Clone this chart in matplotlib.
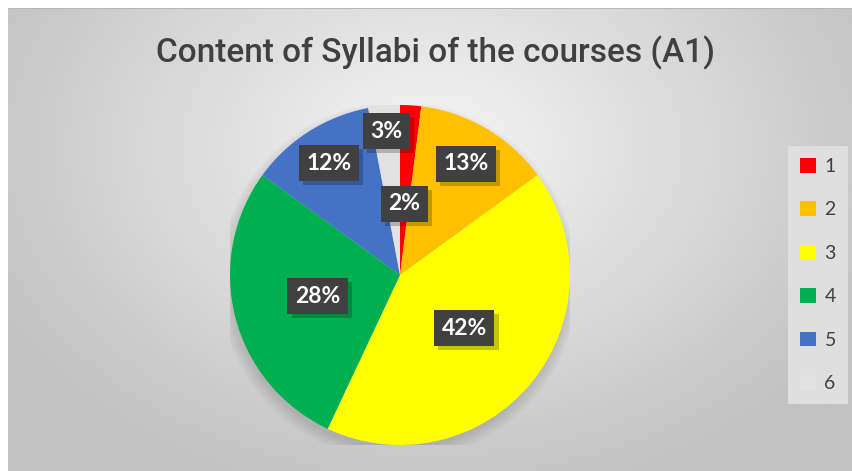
import numpy as np
import matplotlib
matplotlib.use("Agg")
from matplotlib import pyplot as plt
import matplotlib.patheffects as pe

labels = ["1", "2", "3", "4", "5", "6"]
values = [2, 13, 42, 28, 12, 3]
colors = ["#ff0000", "#ffc000", "#ffff00", "#00b050", "#4472c4", "#e2e2e2"]
title = "Content of Syllabi of the courses (A1)"

# radial distance of each data label (fraction of radius)
label_r = [0.42, 0.76, 0.49, 0.50, 0.78, 0.85]

W, H = 852, 471
fig = plt.figure(figsize=(W / 100, H / 100), dpi=100, facecolor="white")

# gradient background panel
bg = fig.add_axes([8 / W, 0, 1 - 8 / W, 1 - 8 / H])
yy, xx = np.mgrid[0:200, 0:360]
cx, cy = 180, 60
d = np.sqrt(((xx - cx) / 230.0) ** 2 + ((yy - cy) / 170.0) ** 2)
g = np.clip(0.96 - 0.22 * d, 0.76, 0.96)
bg.imshow(g, cmap="gray", vmin=0, vmax=1, aspect="auto", extent=[0, 1, 0, 1],
          origin="upper", interpolation="bicubic")
bg.set_xlim(0, 1)
bg.set_ylim(0, 1)
bg.axis("off")
bg.plot([0, 1], [1, 1], color="#b8b8b8", lw=1.5, transform=bg.transAxes)

fig.text(435 / W, 1 - 53 / H, title, ha="center", va="center", fontsize=24,
         color="#404040", family=["Roboto", "DejaVu Sans"], fontweight="medium")

# pie
cxp, cyp, r = 400, 275, 170
ax = fig.add_axes([(cxp - r) / W, (H - cyp - r) / H, 2 * r / W, 2 * r / H])

# soft shadow under the pie
for k in range(7):
    ax.add_patch(plt.Circle((-0.01, -0.035), 0.99 + 0.011 * k, color="black",
                            alpha=0.02, lw=0, zorder=0))

wedges, _ = ax.pie(values, colors=colors, startangle=90, counterclock=False,
                   radius=1.0, wedgeprops=dict(linewidth=0))
for w in wedges:
    w.set_zorder(2)

total = float(sum(values))
cum = 0.0
for v, lr in zip(values, label_r):
    mid = 90 - (cum + v / 2.0) / total * 360
    cum += v
    a = np.deg2rad(mid)
    t = ax.text(lr * np.cos(a), lr * np.sin(a), "%d%%" % round(v / total * 100),
                ha="center", va="center", fontsize=16.5, fontweight="bold",
                color="white", family=["Lato", "DejaVu Sans"], zorder=5,
                bbox=dict(boxstyle="square,pad=0.33", facecolor="#404040",
                          edgecolor="none"))
    t.get_bbox_patch().set_path_effects([
        pe.SimplePatchShadow(offset=(3, -3), shadow_rgbFace="black", alpha=0.22),
        pe.Normal()])

ax.set_xlim(-1, 1)
ax.set_ylim(-1, 1)
ax.set_aspect("equal")
ax.axis("off")

# legend
handles = [plt.Rectangle((0, 0), 1, 1, facecolor=c, edgecolor="none") for c in colors]
leg = fig.legend(handles, labels, loc="center", bbox_to_anchor=(818 / W, 1 - 275 / H),
                 frameon=True, handlelength=0.8, handleheight=0.8,
                 handletextpad=0.45, labelspacing=1.35, borderpad=0.6,
                 prop={"family": ["Lato", "DejaVu Sans"], "size": 14})
leg.get_frame().set_facecolor("#dfdfdf")
leg.get_frame().set_edgecolor("none")
leg.get_frame().set_boxstyle("square", pad=0)
leg.get_frame().set_alpha(1)
for txt in leg.get_texts():
    txt.set_color("#404040")

fig.savefig("out.png", dpi=100, facecolor="white")
